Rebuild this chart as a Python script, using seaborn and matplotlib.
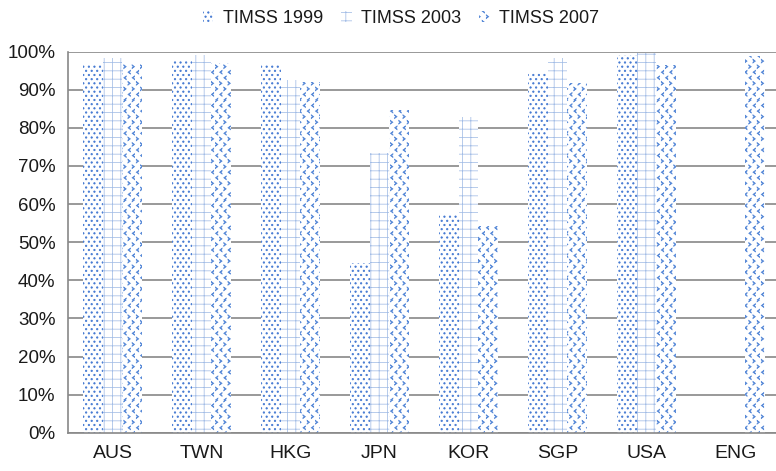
import numpy as np
import pandas as pd
import matplotlib
matplotlib.use("Agg")
import matplotlib.pyplot as plt
import matplotlib.hatch as mhatch
from matplotlib.path import Path
from matplotlib.patches import Patch
import seaborn as sns

# ---- data -------------------------------------------------------------
countries = ["AUS", "TWN", "HKG", "JPN", "KOR", "SGP", "USA", "ENG"]
timss_1999 = [96.8, 97.8, 96.5, 44.5, 57.1, 94.5, 99.1, np.nan]
timss_2003 = [98.3, 99.1, 92.5, 73.3, 82.9, 98.3, 99.7, np.nan]
timss_2007 = [96.8, 97.1, 92.0, 84.7, 54.2, 91.9, 96.5, 98.9]
series_labels = ["TIMSS 1999", "TIMSS 2003", "TIMSS 2007"]
y_ticks = [0, 10, 20, 30, 40, 50, 60, 70, 80, 90, 100]
y_tick_labels = [f"{v}%" for v in y_ticks]


# ---- custom fill patterns ---------------------------------------------
class LatticeHatch(mhatch.HatchPatternBase):
    """Staggered lattice of small filled shapes, tiled over the unit cell."""
    char = None
    row_factor = 1.0

    def shape(self, row):
        raise NotImplementedError

    def __init__(self, hatch, density):
        n = hatch.count(self.char) * density
        if n == 0:
            self.num_vertices = 0
            return
        nr = int(round(n * self.row_factor))
        nr += nr % 2
        dx, dy = 1.0 / n, 1.0 / nr
        parts_v, parts_c = [], []
        for r in range(nr + 1):
            shift = 0.0 if r % 2 == 0 else dx / 2
            verts, codes = self.shape(r)
            ncol = n + 1 if r % 2 == 0 else n
            for c in range(ncol):
                parts_v.append(verts + [c * dx + shift, r * dy])
                parts_c.append(codes)
        self._verts = np.concatenate(parts_v)
        self._codes = np.concatenate(parts_c)
        self.num_vertices = len(self._verts)

    def set_vertices_and_codes(self, vertices, codes):
        vertices[:] = self._verts
        codes[:] = self._codes


class DotHatch(LatticeHatch):
    """Small round dots ('o')."""
    char = "o"
    row_factor = 1.3

    def shape(self, row):
        circle = Path.unit_circle()
        return circle.vertices * 0.0072, circle.codes


class ChevronHatch(LatticeHatch):
    """Rows of '<' and '>' chevrons ('*')."""
    char = "*"
    row_factor = 1.5
    _chev = np.array([[0.012, 0.018], [-0.012, 0.0], [0.012, -0.018],
                      [0.012, -0.011], [-0.001, 0.0], [0.012, 0.011],
                      [0.012, 0.018]])
    _codes = np.array([Path.MOVETO] + [Path.LINETO] * 5 + [Path.CLOSEPOLY],
                      dtype=Path.code_type)

    def shape(self, row):
        verts = self._chev if row % 4 in (0, 1) else self._chev * [-1, 1]
        return verts, ChevronHatch._codes


mhatch._hatch_types[:] = [t for t in mhatch._hatch_types
                          if t not in (mhatch.SmallCircles, mhatch.Stars)]
mhatch._hatch_types += [DotHatch, ChevronHatch]

hatches = ["ooo", "++", "**"]
hatch_colors = ["#4479d2", "#a3bde6", "#5a8bd8"]

# ---- style ------------------------------------------------------------
sns.set_style("white")
plt.rcParams["font.family"] = ["Liberation Sans", "DejaVu Sans"]
plt.rcParams["hatch.linewidth"] = 0.55

df = pd.DataFrame({
    "country": countries * 3,
    "series": np.repeat(series_labels, len(countries)),
    "value": timss_1999 + timss_2003 + timss_2007,
})

fig = plt.figure(figsize=(7.76, 4.71), dpi=100)
ax = fig.add_axes([68 / 776, 38.3 / 471, 712 / 776, 381 / 471])

sns.barplot(data=df, x="country", y="value", hue="series",
            order=countries, hue_order=series_labels,
            palette=["white"] * 3, width=0.66, legend=False,
            errorbar=None, ax=ax)

for container, h, c in zip(ax.containers, hatches, hatch_colors):
    for bar in container:
        bar.set_facecolor("white")
        bar.set_edgecolor(c)
        bar.set_linewidth(0)
        bar.set_hatch(h)

grid_color = "#888888"
text_color = "#1a1a1a"
ax.set_axisbelow(True)
ax.set_ylim(0, 100)
ax.set_xlim(-0.5, len(countries) - 0.5)
ax.set_yticks(y_ticks)
ax.set_yticklabels(y_tick_labels)
ax.yaxis.grid(True, color=grid_color, linewidth=1.2)
ax.xaxis.grid(False)
ax.set_xlabel("")
ax.set_ylabel("")

for side in ("top", "right"):
    ax.spines[side].set_visible(False)
for side in ("left", "bottom"):
    ax.spines[side].set_color(grid_color)
    ax.spines[side].set_linewidth(1.2)

ax.set_xticks(np.arange(-0.5, len(countries), 1.0), minor=True)
ax.tick_params(axis="x", which="major", length=0, pad=9,
               labelsize=14, labelcolor=text_color)
ax.tick_params(axis="x", which="minor", length=6, width=1.2,
               color=grid_color, direction="out")
ax.tick_params(axis="y", which="major", length=5, width=1.2,
               color=grid_color, direction="out", pad=4,
               labelsize=13.5, labelcolor=text_color)

handles = [Patch(facecolor="white", edgecolor=c, linewidth=0, hatch=h)
           for h, c in zip(hatches, hatch_colors)]
fig.legend(handles, series_labels, loc="upper center",
           bbox_to_anchor=(401 / 776, 1.0), ncol=3, frameon=False,
           fontsize=13, labelcolor=text_color,
           handlelength=0.6, handleheight=0.6,
           handletextpad=0.55, columnspacing=0.95, borderaxespad=0.15)

fig.savefig("out.png", dpi=100)
